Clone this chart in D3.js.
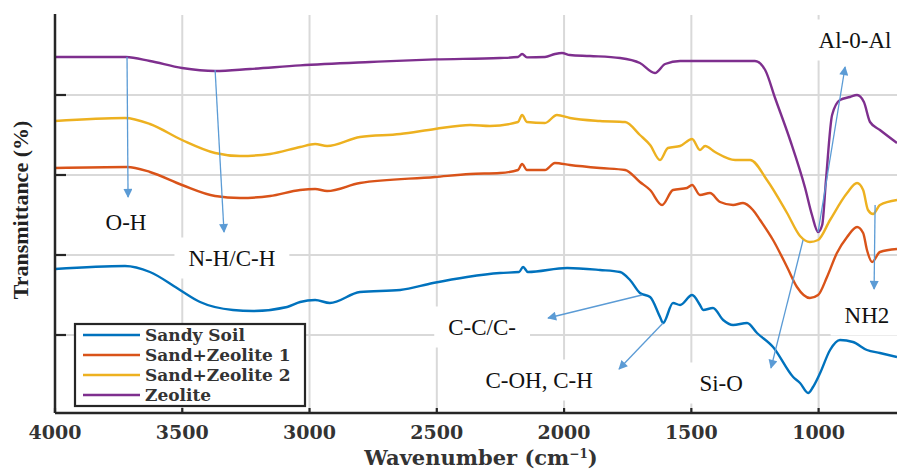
<!DOCTYPE html>
<html>
<head>
<meta charset="utf-8">
<script src="https://cdn.jsdelivr.net/npm/d3@7"></script>
<style>
html,body{margin:0;padding:0;background:#fff;}
svg{display:block;}
</style>
</head>
<body>
<svg id="chart" width="897" height="470"></svg>
<script>
// ---------- DATA ----------
const seriesNames = ["Sandy Soil", "Sand+Zeolite 1", "Sand+Zeolite 2", "Zeolite"];
const xTickValues = [4000, 3500, 3000, 2500, 2000, 1500, 1000];
const yTickValues = [20, 40, 60, 80];

const sandySoilWN = [4000,3725,3627,3509,3430,3301,3222,3088,3037,2978,2920,2802,2644,2515,2381,2252,2177,2161,2142,1988,1859,1780,1741,1702,1662,1623,1611,1572,1544,1497,1466,1454,1415,1375,1336,1281,1242,1179,1100,1073,1041,1022,994,955,916,865,810,759,692];
const sandySoilT  = [36.5,37.25,35.75,31.25,28.25,26.25,26,27,28.25,28.75,28,30.75,31.25,33,34.5,35.5,35.75,37,35.75,36.75,36.25,35.75,33.75,30.5,29.5,24.5,23,28,27.5,30,27.5,26.25,26.75,23.75,22.5,23,20.5,17,9.5,8,5.5,7,10.5,16.25,18.75,18.25,16.25,15.5,14.5];

const sandZeo1WN = [4000,3717,3627,3501,3371,3273,3155,3037,2978,2931,2802,2507,2369,2252,2181,2165,2146,2075,2036,1977,1859,1760,1702,1662,1615,1572,1517,1497,1466,1427,1387,1336,1297,1258,1230,1179,1124,1085,1034,1002,967,928,888,849,825,810,790,759,692];
const sandZeo1T  = [61.75,62,60.75,57.5,54.75,54.25,54.75,56.25,56.5,56,58,59.5,60.25,60.5,61.25,62.75,61.25,61.25,63,62.5,61.75,61.25,58.25,56.25,52.5,56.25,56.75,57.5,55,55.5,53.25,52.5,53,51.25,48.75,43.75,37,32,29.25,30,34.5,40.5,44.5,47,45.5,41.25,38.25,40.75,41.5];

const sandZeo2WN = [4000,3725,3627,3501,3371,3273,3155,3037,2978,2931,2802,2644,2507,2369,2291,2181,2165,2146,2075,2028,1977,1859,1760,1702,1662,1623,1592,1544,1497,1466,1446,1407,1328,1269,1203,1124,1073,1034,1002,955,888,849,825,806,786,759,692];
const sandZeo2T  = [73.5,74.25,72.75,68.75,65.5,64.75,65.25,67,67.75,67.25,69.5,70.25,71.5,72.5,72.25,73.25,75,73.25,73,75,74.25,73.5,73.25,70,67.5,63.75,66.75,67.25,69,66.25,67.25,65.75,63.75,63.75,58.75,50.5,44.75,43.25,43.75,48.75,55.5,58,56.25,51.25,50.25,52.5,53.75];

const zeoliteWN = [4000,3721,3627,3501,3371,3234,3037,2762,2507,2252,2181,2165,2146,2075,2036,2008,1977,1898,1780,1702,1643,1603,1544,1250,1210,1171,1112,1053,1026,1002,986,971,947,916,877,849,822,798,759,692];
const zeoliteT  = [89.5,89.5,88.5,86.75,86,86.5,87.4,88.25,88.9,89.25,89.5,90.25,89.4,89.5,90.25,90.5,90,89.75,89.25,88,85.5,87.75,88.5,88.5,86.25,79.25,68.75,56.75,50,45.75,47.5,58.75,75,78.75,79.5,80,78.25,73.25,71.25,68];

// annotation labels (text, label position, arrow start, arrow end) in data units
const annoText   = ["O-H", "N-H/C-H", "C-C/C-", "C-OH, C-H", "Si-O", "NH2", "Al-0-Al"];
const annoLabelWN = [3721, 3305, 2322, 2098, 1383, 810, 857];
const annoLabelT  = [48.25, 39.25, 22, 8.75, 8, 25, 93.75];
const arrowFromWN = [3717, 3371, 1694, 1611, 1061, 778, 1002];
const arrowFromT  = [89.5, 86.25, 30, 23, 43.75, 52.5, 45.75];
const arrowToWN   = [3713, 3336, 2063, 1784, 1187, 782, 896];
const arrowToT    = [54.5, 45.75, 24.25, 11.5, 11.75, 31.5, 87];

// ---------- CHART ----------
const colors = ["#0072BD", "#D95319", "#EDB120", "#7E2F8E"];
const seriesData = [
  d3.zip(sandySoilWN, sandySoilT),
  d3.zip(sandZeo1WN, sandZeo1T),
  d3.zip(sandZeo2WN, sandZeo2T),
  d3.zip(zeoliteWN, zeoliteT)
];

const svg = d3.select("#chart");
const L = 55, R = 897, T = 15, B = 413;
const x = d3.scaleLinear().domain([4000, 692]).range([L, R]);
const y = d3.scaleLinear().domain([0.5, 100]).range([B, T]);

svg.append("defs").append("clipPath").attr("id", "clip")
  .append("rect").attr("x", L).attr("y", T - 5).attr("width", R - L).attr("height", B - T + 5);

const marker = svg.select("defs").append("marker")
  .attr("id", "arrow").attr("viewBox", "0 0 10 10")
  .attr("refX", 9).attr("refY", 5)
  .attr("markerWidth", 10).attr("markerHeight", 9)
  .attr("markerUnits", "userSpaceOnUse")
  .attr("orient", "auto");
marker.append("path").attr("d", "M0,0 L10,5 L0,10 Z").attr("fill", "#5B9BD5");

// grid
const grid = svg.append("g");
grid.selectAll(".vg").data(xTickValues.slice(1)).enter().append("line")
  .attr("x1", d => x(d)).attr("x2", d => x(d)).attr("y1", T).attr("y2", B)
  .attr("stroke", "#d9d9d9").attr("stroke-width", 2);
grid.selectAll(".hg").data(yTickValues).enter().append("line")
  .attr("x1", L).attr("x2", R).attr("y1", d => y(d)).attr("y2", d => y(d))
  .attr("stroke", "#d9d9d9").attr("stroke-width", 2);

// annotation white boxes (hide grid)
const annoG = svg.append("g");
const labels = annoText.map((t, i) => {
  const txt = annoG.append("text")
    .attr("x", x(annoLabelWN[i])).attr("y", y(annoLabelT[i]))
    .attr("text-anchor", "middle").attr("dominant-baseline", "central")
    .attr("font-family", "'Liberation Serif', 'Times New Roman', serif")
    .attr("font-size", 23).attr("fill", "#111").text(t);
  return txt;
});
labels.forEach(txt => {
  const bb = txt.node().getBBox();
  annoG.insert("rect", "text")
    .attr("x", bb.x - 14).attr("y", bb.y - 8)
    .attr("width", bb.width + 28).attr("height", bb.height + 16)
    .attr("fill", "#fff");
});

// lines
const line = d3.line().x(d => x(d[0])).y(d => y(d[1])).curve(d3.curveMonotoneX);
svg.append("g").attr("clip-path", "url(#clip)")
  .selectAll("path").data(seriesData).enter().append("path")
  .attr("d", line).attr("fill", "none")
  .attr("stroke", (d, i) => colors[i]).attr("stroke-width", 2.4)
  .attr("stroke-linejoin", "round");

// arrows
svg.append("g").selectAll("line").data(annoText).enter().append("line")
  .attr("x1", (d, i) => x(arrowFromWN[i])).attr("y1", (d, i) => y(arrowFromT[i]))
  .attr("x2", (d, i) => x(arrowToWN[i])).attr("y2", (d, i) => y(arrowToT[i]))
  .attr("stroke", "#5B9BD5").attr("stroke-width", 1.3)
  .attr("marker-end", "url(#arrow)");

// bring labels to front
labels.forEach(t => t.raise());

// axes
const axG = svg.append("g");
axG.append("line").attr("x1", L).attr("x2", L).attr("y1", T - 1).attr("y2", B)
  .attr("stroke", "#262626").attr("stroke-width", 2.5);
axG.append("line").attr("x1", L).attr("x2", R).attr("y1", B).attr("y2", B)
  .attr("stroke", "#262626").attr("stroke-width", 2.5);
axG.selectAll(".yt").data(yTickValues).enter().append("line")
  .attr("x1", L).attr("x2", L + 11).attr("y1", d => y(d)).attr("y2", d => y(d))
  .attr("stroke", "#262626").attr("stroke-width", 2.2);
axG.selectAll(".xt").data(xTickValues).enter().append("line")
  .attr("x1", d => x(d)).attr("x2", d => x(d)).attr("y1", B).attr("y2", B - 5)
  .attr("stroke", "#262626").attr("stroke-width", 2.2);
axG.selectAll(".xl").data(xTickValues).enter().append("text")
  .attr("x", d => x(d)).attr("y", B + 26)
  .attr("text-anchor", "middle")
  .attr("font-family", "'DejaVu Serif', serif").attr("font-weight", "bold")
  .attr("font-size", 19).attr("fill", "#333")
  .text(d => d);

// axis titles
const xt = svg.append("text").attr("x", 481).attr("y", 465)
  .attr("text-anchor", "middle")
  .attr("font-family", "'DejaVu Serif', serif").attr("font-weight", "bold")
  .attr("font-size", 21).attr("fill", "#333");
xt.append("tspan").text("Wavenumber (cm");
xt.append("tspan").attr("font-size", 12).attr("dy", -7).text("−1");
xt.append("tspan").attr("dy", 7).text(")");

svg.append("text")
  .attr("transform", "translate(28,210) rotate(-90)")
  .attr("text-anchor", "middle")
  .attr("font-family", "'Liberation Serif', 'Times New Roman', serif").attr("font-weight", "bold")
  .attr("font-size", 22).attr("fill", "#222")
  .text("Transmittance (%)");

// legend
const lg = svg.append("g");
lg.append("rect").attr("x", 75).attr("y", 324).attr("width", 230).attr("height", 82)
  .attr("fill", "#fff").attr("stroke", "#262626").attr("stroke-width", 2.2);
seriesNames.forEach((n, i) => {
  const yy = 335 + i * 20;
  lg.append("line").attr("x1", 83).attr("x2", 140).attr("y1", yy).attr("y2", yy)
    .attr("stroke", colors[i]).attr("stroke-width", 2.5);
  lg.append("text").attr("x", 145).attr("y", yy).attr("dominant-baseline", "central")
    .attr("font-family", "'DejaVu Serif', serif").attr("font-weight", "bold")
    .attr("font-size", 17).attr("fill", "#333").text(n);
});
</script>
</body>
</html>
